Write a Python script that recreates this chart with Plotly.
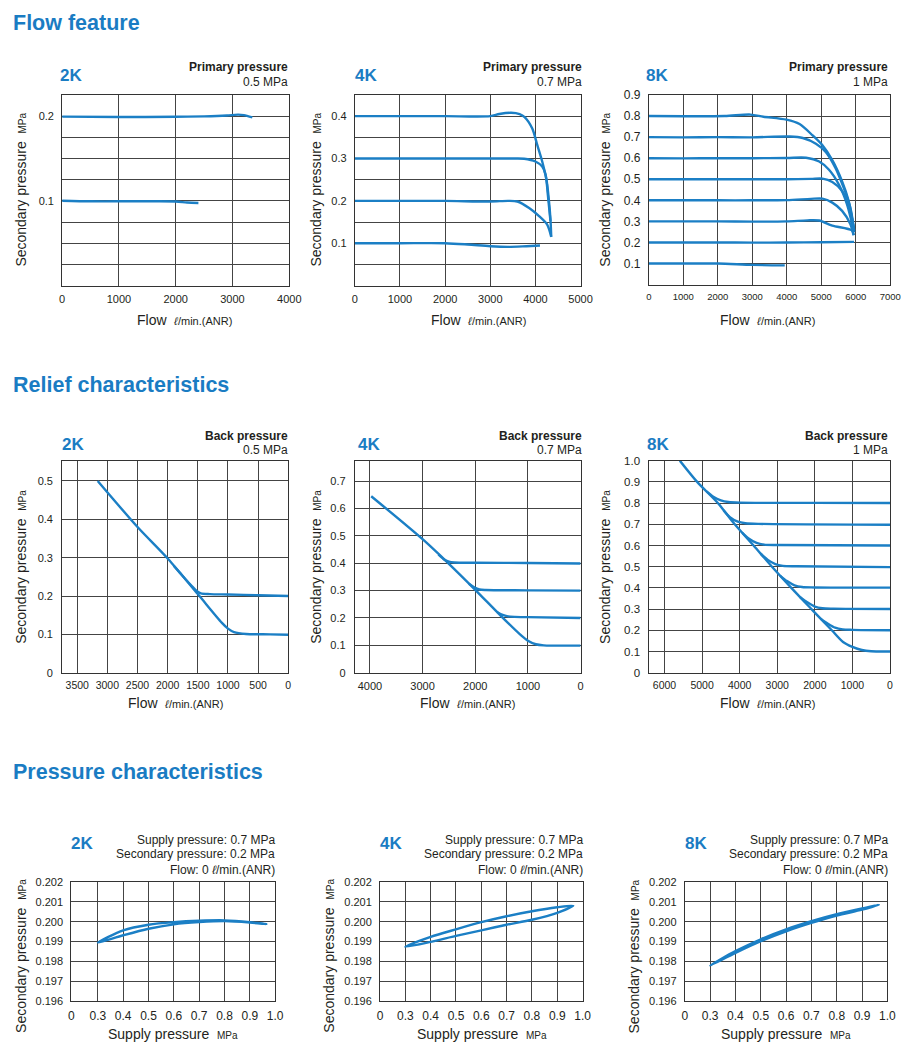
import plotly.graph_objects as go

# page is 911x1057; browser body has 8px default margins, so the figure is 895x1041
PW, PH = 911, 1057
OFF = 8
W, H = PW - 2 * OFF, PH - 2 * OFF
LINE = "#1b7fc5"
TITLE_BLUE = "#1a7cc3"
TXT = "#231f20"
GRID = "#444444"
FONT = "Liberation Sans, Arial, Helvetica, sans-serif"

# ---------------- data ----------------
# Flow feature: x = flow (l/min ANR), y = secondary pressure (MPa)
ff2k_x = [[0, 1000, 2000, 2500, 2900, 3100, 3200, 3350],
          [0, 500, 1000, 1500, 2000, 2200, 2400]]
ff2k_y = [[0.1995, 0.199, 0.1993, 0.1998, 0.2008, 0.2018, 0.2012, 0.1985],
          [0.1002, 0.0995, 0.0995, 0.0995, 0.0993, 0.098, 0.0975]]

ff4k_x = [[0, 1000, 2000, 3000, 3200, 3460, 3650, 3760, 3930, 4040, 4150, 4250, 4300, 4335, 4350],
          [0, 1000, 2000, 3000, 3500, 3750, 4000, 4150, 4225, 4275, 4333],
          [0, 1000, 2000, 3000, 3400, 3600, 3860, 4080, 4260, 4350],
          [0, 1000, 2000, 2500, 3000, 3400, 3800, 4100]]
ff4k_y = [[0.4, 0.4, 0.4, 0.4, 0.405, 0.408, 0.405, 0.398, 0.371, 0.332, 0.293, 0.246, 0.199, 0.152, 0.115],
          [0.3, 0.3, 0.3, 0.3, 0.3, 0.2995, 0.293, 0.281, 0.262, 0.214, 0.152],
          [0.2, 0.2, 0.2, 0.1985, 0.2, 0.1985, 0.183, 0.164, 0.144, 0.115],
          [0.1, 0.1, 0.1, 0.097, 0.093, 0.0915, 0.093, 0.0945]]

ff8k_x = [[0, 1000, 2200, 2944, 3324, 3989, 4369, 4748, 5033, 5318, 5603, 5793, 5935],
          [0, 1000, 2000, 3000, 4084, 4463, 4843, 5128, 5413, 5650, 5840, 5954],
          [0, 1000, 2000, 3000, 4000, 4558, 4938, 5223, 5508, 5745, 5935],
          [0, 1000, 2000, 3000, 4000, 4700, 5033, 5318, 5603, 5840, 5954],
          [0, 1000, 2000, 3000, 4000, 4700, 5033, 5318, 5603, 5840, 5935],
          [0, 1000, 2000, 3000, 4000, 4600, 4938, 5318, 5888, 5940],
          [0, 1000, 2000, 3000, 4000, 5000, 5950],
          [0, 1000, 2000, 3000, 3940]]
ff8k_y = [[0.8, 0.799, 0.8, 0.807, 0.797, 0.783, 0.762, 0.708, 0.661, 0.591, 0.49, 0.397, 0.273],
          [0.7, 0.699, 0.7, 0.699, 0.703, 0.696, 0.669, 0.63, 0.553, 0.459, 0.366, 0.257],
          [0.6, 0.599, 0.6, 0.6, 0.601, 0.602, 0.584, 0.545, 0.475, 0.381, 0.257],
          [0.5, 0.5, 0.5, 0.5, 0.5, 0.502, 0.503, 0.487, 0.444, 0.35, 0.249],
          [0.4, 0.4, 0.4, 0.4, 0.401, 0.407, 0.408, 0.389, 0.35, 0.288, 0.234],
          [0.3, 0.3, 0.3, 0.299, 0.3, 0.305, 0.304, 0.28, 0.257, 0.235],
          [0.2, 0.2, 0.2, 0.199, 0.2, 0.201, 0.203],
          [0.1, 0.1, 0.1, 0.0935, 0.091]]

# Relief characteristics: x = flow (reversed axis), y = secondary pressure (MPa)
rl2k_x = [[3160, 2500, 2000, 1500, 1100, 1000, 900, 700, 300, 0],
          [1900, 1800, 1700, 1600, 1520, 1450, 1300, 1000, 500, 0]]
rl2k_y = [[0.5, 0.38, 0.298, 0.205, 0.13, 0.115, 0.106, 0.101, 0.1, 0.099],
          [0.279, 0.261, 0.243, 0.226, 0.213, 0.207, 0.205, 0.204, 0.202, 0.2]]

rl4k_x = [[3975, 3000, 2500, 2000, 1500, 1150, 1000, 850, 700, 0],
          [2700, 2600, 2500, 2400, 2000, 1000, 0],
          [2120, 2020, 1920, 1800, 1000, 0],
          [1580, 1480, 1380, 1250, 1000, 0]]
rl4k_y = [[0.645, 0.488, 0.398, 0.303, 0.205, 0.14, 0.117, 0.104, 0.1, 0.099],
          [0.432, 0.415, 0.406, 0.403, 0.402, 0.401, 0.399],
          [0.325, 0.312, 0.304, 0.302, 0.301, 0.3],
          [0.221, 0.211, 0.206, 0.204, 0.203, 0.2]]

rl8k_x = [[5591, 5130, 4580, 4130, 3630, 3140, 2625, 2090, 1548, 1250, 1000, 750, 500, 0],
          [4880, 4700, 4500, 4300, 4000, 2000, 0],
          [4430, 4250, 4050, 3850, 3500, 0],
          [3930, 3750, 3550, 3350, 3000, 0],
          [3440, 3250, 3050, 2850, 2500, 0],
          [2925, 2740, 2540, 2340, 2000, 0],
          [2390, 2200, 2000, 1800, 1500, 0],
          [1848, 1660, 1460, 1260, 1000, 0]]
rl8k_y = [[1.0, 0.9, 0.8, 0.7, 0.6, 0.5, 0.4, 0.3, 0.2, 0.145, 0.122, 0.107, 0.101, 0.1],
          [0.855, 0.83, 0.813, 0.805, 0.802, 0.801, 0.8],
          [0.766, 0.732, 0.712, 0.705, 0.702, 0.698],
          [0.66, 0.632, 0.612, 0.604, 0.602, 0.6],
          [0.561, 0.532, 0.512, 0.504, 0.502, 0.498],
          [0.458, 0.432, 0.412, 0.404, 0.402, 0.401],
          [0.356, 0.332, 0.312, 0.304, 0.302, 0.3],
          [0.255, 0.232, 0.212, 0.204, 0.202, 0.2]]

# Pressure characteristics: x = supply pressure (MPa), y = secondary pressure (MPa)
pc2k_x = [[0.3, 0.4, 0.5, 0.6, 0.7, 0.8, 0.9, 0.965, 0.9, 0.8, 0.7, 0.6, 0.5, 0.4, 0.3]]
pc2k_y = [[0.19895, 0.19957, 0.19985, 0.19998, 0.20005, 0.20007, 0.19998, 0.19988,
           0.19996, 0.20003, 0.19998, 0.19987, 0.19965, 0.19932, 0.19895]]
pc4k_x = [[0.3, 0.4, 0.5, 0.6, 0.7, 0.8, 0.9, 0.963, 0.9, 0.8, 0.7, 0.6, 0.5, 0.4, 0.3]]
pc4k_y = [[0.19874, 0.19924, 0.19962, 0.19998, 0.20028, 0.20053, 0.20073, 0.20081,
           0.20045, 0.2001, 0.19985, 0.19957, 0.19929, 0.19899, 0.19874]]
pc8k_x = [[0.3, 0.4, 0.5, 0.6, 0.7, 0.8, 0.9, 0.967, 0.9, 0.8, 0.7, 0.6, 0.5, 0.4, 0.3]]
pc8k_y = [[0.1978, 0.19852, 0.19912, 0.19962, 0.20003, 0.20038, 0.20067, 0.20086,
           0.20061, 0.20031, 0.19994, 0.19952, 0.19902, 0.19843, 0.1978]]

# tick labels
ff_x_ticks = [[0, 1000, 2000, 3000, 4000],
              [0, 1000, 2000, 3000, 4000, 5000],
              [0, 1000, 2000, 3000, 4000, 5000, 6000, 7000]]
rl_x_ticks = [[0, 500, 1000, 1500, 2000, 2500, 3000, 3500],
              [0, 1000, 2000, 3000, 4000],
              [0, 1000, 2000, 3000, 4000, 5000, 6000]]
pc_x_ticks = [0.3, 0.4, 0.5, 0.6, 0.7, 0.8, 0.9, 1.0]
pc_x_text = ["0.3", "0.4", "0.5", "0.6", "0.7", "0.8", "0.9", "1.0"]
pc_y_ticks = [0.196, 0.197, 0.198, 0.199, 0.2, 0.201, 0.202]

# ---------------- layout helpers (page pixel coords -> paper) ----------------
def dx(l, r):
    return [(l - OFF) / W, min(1.0, (r - OFF) / W)]

def dy(t, b):
    return [1 - (b - OFF) / H, 1 - (t - OFF) / H]

def axis(domain, rng, tickvals, ticktext, size, anchor, standoff):
    return dict(domain=domain, range=rng, tickvals=tickvals, ticktext=ticktext,
                showgrid=True, gridcolor=GRID, gridwidth=1, zeroline=False,
                showline=True, linecolor="#333", linewidth=1, mirror=True,
                ticks="", tickfont=dict(family=FONT, size=size, color=TXT),
                anchor=anchor, ticklabelstandoff=standoff, fixedrange=True)

fig = go.Figure()

def add_curves(xs, ys, i):
    for x, y in zip(xs, ys):
        fig.add_trace(go.Scatter(x=x, y=y, mode="lines", xaxis=f"x{i}", yaxis=f"y{i}",
                                 line=dict(color=LINE, width=2.4, shape="spline", smoothing=0.8),
                                 showlegend=False, hoverinfo="skip"))

add_curves(ff2k_x, ff2k_y, 1)
add_curves(ff4k_x, ff4k_y, 2)
add_curves(ff8k_x, ff8k_y, 3)
add_curves(rl2k_x, rl2k_y, 4)
add_curves(rl4k_x, rl4k_y, 5)
add_curves(rl8k_x, rl8k_y, 6)
add_curves(pc2k_x, pc2k_y, 7)
add_curves(pc4k_x, pc4k_y, 8)
add_curves(pc8k_x, pc8k_y, 9)

lay = {}
# row 1
y1v = [0.025 * k for k in range(1, 9)]
lay["xaxis1"] = axis(dx(60, 291), [0, 4000], ff_x_ticks[0], [str(v) for v in ff_x_ticks[0]], 11, "y1", 3)
lay["yaxis1"] = axis(dy(89, 282), [0, 0.225], y1v, ["0.1" if abs(v - 0.1) < 1e-9 else "0.2" if abs(v - 0.2) < 1e-9 else "" for v in y1v], 11, "x1", 5)
y2v = [0.05 * k for k in range(1, 9)]
lay["xaxis2"] = axis(dx(357.7, 587.3), [0, 5000], ff_x_ticks[1], [str(v) for v in ff_x_ticks[1]], 11, "y2", 3)
lay["yaxis2"] = axis(dy(89, 282), [0, 0.45], y2v, [("%.1f" % v) if k % 2 == 1 else "" for k, v in enumerate(y2v)], 11, "x2", 5)
y3v = [0.1 * k for k in range(1, 10)]
lay["xaxis3"] = axis(dx(656.7, 902.3), [0, 7000], ff_x_ticks[2], [str(v) for v in ff_x_ticks[2]], 9.5, "y3", 3)
lay["yaxis3"] = axis(dy(89, 281), [0, 0.9], y3v, ["%.1f" % v for v in y3v], 12, "x3", 5)
# row 2
y4v = [0.1 * k for k in range(0, 6)]
lay["xaxis4"] = axis(dx(60, 290), [3750, 0], rl_x_ticks[0], [str(v) for v in rl_x_ticks[0]], 10.5, "y4", 3)
lay["yaxis4"] = axis(dy(459.3, 674), [0, 0.553], y4v, ["0"] + ["%.1f" % v for v in y4v[1:]], 11, "x4", 6)
y5v = [0.1 * k for k in range(0, 8)]
lay["xaxis5"] = axis(dx(357.7, 587.3), [4286, 0], rl_x_ticks[1], [str(v) for v in rl_x_ticks[1]], 11, "y5", 3)
lay["yaxis5"] = axis(dy(459.3, 674), [0, 0.775], y5v, ["0"] + ["%.1f" % v for v in y5v[1:]], 11, "x5", 6)
y6v = [0.1 * k for k in range(0, 11)]
lay["xaxis6"] = axis(dx(657.3, 902), [6400, 0], rl_x_ticks[2], [str(v) for v in rl_x_ticks[2]], 10.5, "y6", 3)
lay["yaxis6"] = axis(dy(459.3, 674), [0, 1.0], y6v, ["0"] + ["%.1f" % v for v in y6v[1:]], 11.5, "x6", 6)
# row 3
for i, (l, r, lo) in zip([7, 8, 9], [(69.3, 276.7, 0.195), (383.3, 589.3, 0.2), (693.3, 899.3, 0.2)]):
    lay[f"xaxis{i}"] = axis(dx(l, r), [lo, 1.0], [lo] + pc_x_ticks, ["0"] + pc_x_text, 12, f"y{i}", 3)
    lay[f"yaxis{i}"] = axis(dy(886, 1006.7), [0.196, 0.202], pc_y_ticks, ["%.3f" % v for v in pc_y_ticks], 11, f"x{i}", 5)

anns = []

def ann(text, x, y, xa="center", ya="middle", size=12, color=TXT, angle=0):
    anns.append(dict(text=text, x=(x - OFF) / W, y=1 - (y - OFF) / H, xref="paper", yref="paper",
                     xanchor=xa, yanchor=ya, showarrow=False, textangle=angle,
                     font=dict(family=FONT, size=size, color=color)))

# section titles
ann("<b>Flow feature</b>", 8, 16, "left", "middle", 21.5, TITLE_BLUE)
ann("<b>Relief characteristics</b>", 8, 383, "left", "middle", 21.5, TITLE_BLUE)
ann("<b>Pressure characteristics</b>", 8, 775, "left", "middle", 21.5, TITLE_BLUE)

# row 1 labels
for lx, rx, name, val in [(56, 292, "2K", "0.5 MPa"), (356, 591, "4K", "0.7 MPa"), (652, 902, "8K", "1 MPa")]:
    ann(f"<b>{name}</b>", lx, 69, "left", "middle", 17, TITLE_BLUE)
    ann("<b>Primary pressure</b>", rx, 61, "right", "middle", 12)
    ann(val, rx, 75.5, "right", "middle", 12)
# row 2 labels
for lx, rx, name, val in [(58, 292, "2K", "0.5 MPa"), (359, 591, "4K", "0.7 MPa"), (653, 902, "8K", "1 MPa")]:
    ann(f"<b>{name}</b>", lx, 443, "left", "middle", 17, TITLE_BLUE)
    ann("<b>Back pressure</b>", rx, 434, "right", "middle", 12)
    ann(val, rx, 449, "right", "middle", 12)
# row 3 labels
for lx, rx, name in [(67, 279, "2K"), (381, 591.5, "4K"), (691, 901.5, "8K")]:
    ann(f"<b>{name}</b>", lx, 847, "left", "middle", 17, TITLE_BLUE)
    ann("Supply pressure: 0.7 MPa", rx, 843, "right", "middle", 12)
    ann("Secondary pressure: 0.2 MPa", rx, 857.5, "right", "middle", 12)
    ann("Flow: 0 <i>ℓ</i>/min.(ANR)", rx, 874, "right", "middle", 12)

ytitle = 'Secondary pressure  <span style="font-size:10px">MPa</span>'
flowtitle = 'Flow  <span style="font-size:11px"><i>ℓ</i>/min.(ANR)</span>'
supplytitle = 'Supply pressure  <span style="font-size:10px">MPa</span>'

for x in [18, 318, 612]:
    ann(ytitle, x, 185, "center", "middle", 14, TXT, -90)
    ann(ytitle, x, 567, "center", "middle", 14, TXT, -90)
for x in [18, 332, 642]:
    ann(ytitle, x, 961, "center", "middle", 14, TXT, -90)
for x in [184, 483, 777.5]:
    ann(flowtitle, x, 317, "center", "middle", 14)
for x in [175, 472.5, 777.5]:
    ann(flowtitle, x, 705, "center", "middle", 14)
for x in [172.5, 486.7, 796.7]:
    ann(supplytitle, x, 1039.5, "center", "middle", 14)

fig.update_layout(width=W, height=H, margin=dict(l=0, r=0, t=0, b=0),
                  paper_bgcolor="white", plot_bgcolor="white",
                  font=dict(family=FONT, color=TXT), annotations=anns, **lay)

fig.write_html("out.html", config={"displayModeBar": False})
